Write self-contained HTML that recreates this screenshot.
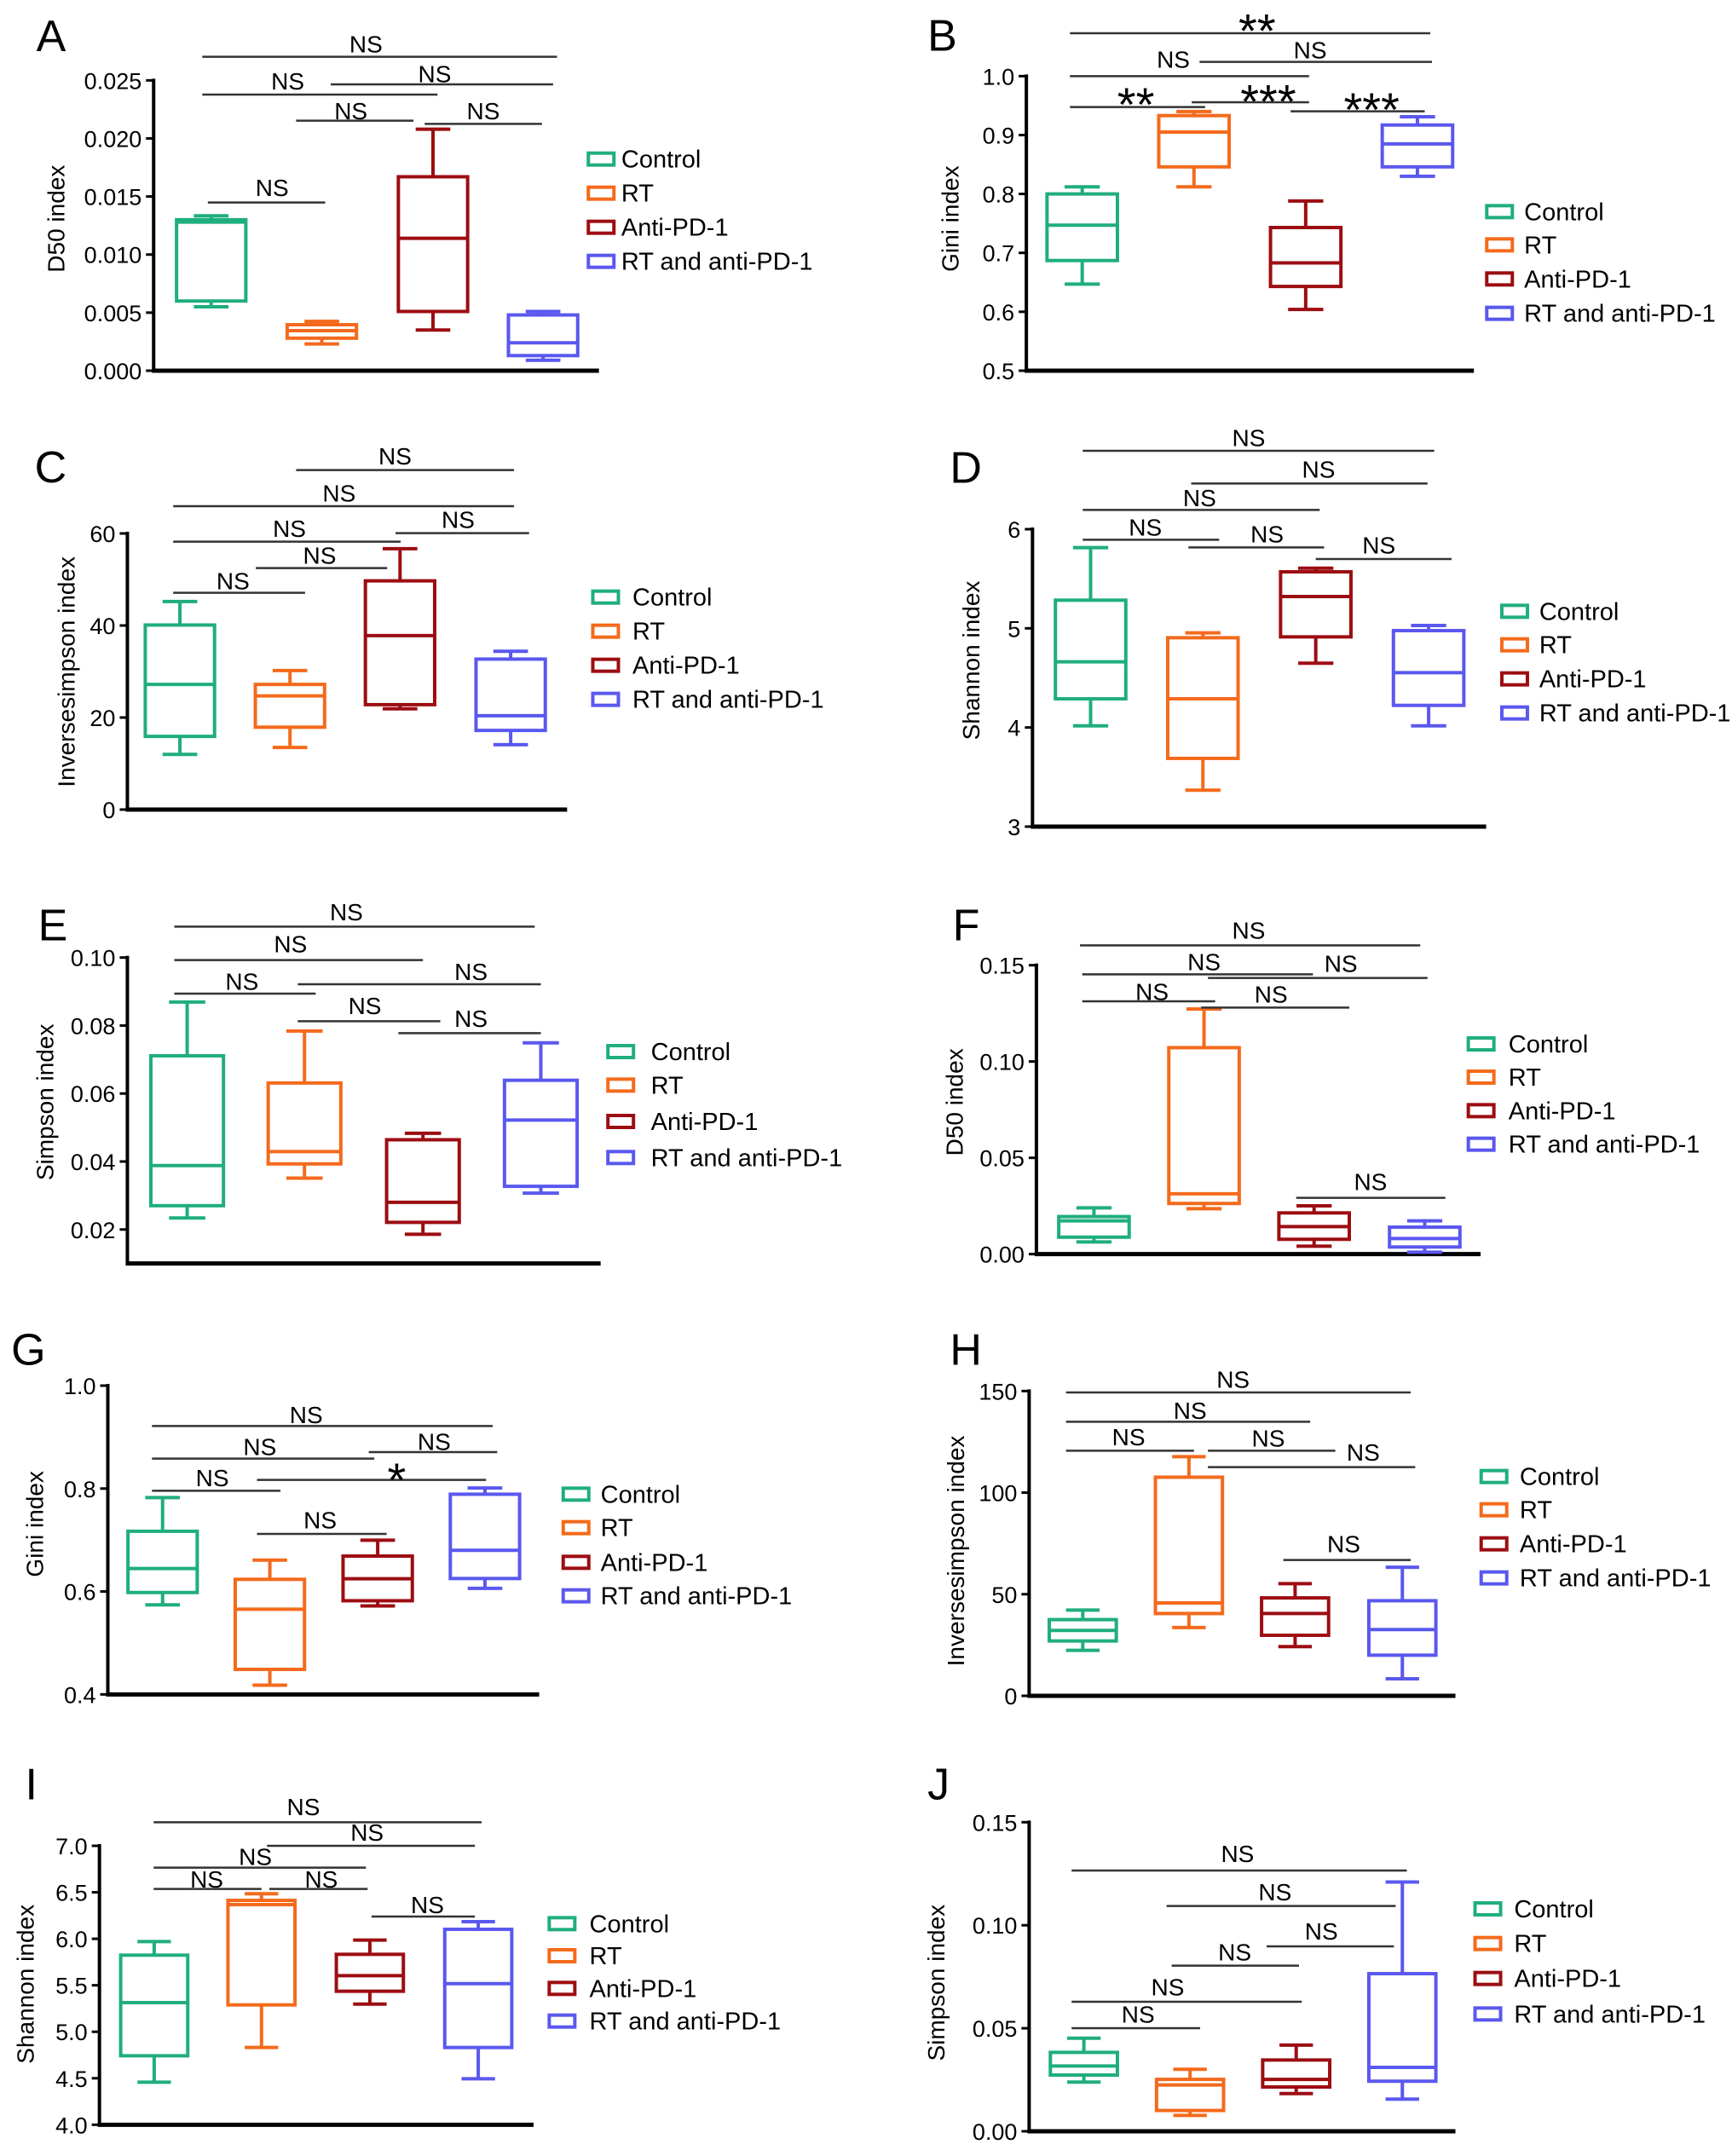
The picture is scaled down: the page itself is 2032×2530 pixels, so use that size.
<!DOCTYPE html>
<html><head><meta charset="utf-8"><style>
html,body{margin:0;padding:0;background:#fff;}
svg{display:block;font-family:"Liberation Sans",Arial,sans-serif;}
</style></head><body>
<svg id="fig" width="2032" height="2530" viewBox="0 0 2032 2530" xmlns="http://www.w3.org/2000/svg"></svg>
<script>
const groups = ["Control","RT","Anti-PD-1","RT and anti-PD-1"];
const colors = ["#1fae7c","#f46a1c","#9c0d12","#5a58ee"];
// box data per panel: [min, q1, median, q3, max] per group
const dataA = [[0.0055,0.0060,0.0128,0.0130,0.01334],[0.0023,0.0028,0.00345,0.00396,0.00425],[0.0035,0.0051,0.0114,0.0167,0.0208],[0.0009,0.0013,0.0024,0.0048,0.0051]];
const dataB = [[0.647,0.687,0.747,0.800,0.812],[0.812,0.846,0.905,0.933,0.940],[0.604,0.643,0.683,0.743,0.788],[0.830,0.846,0.885,0.917,0.931]];
const dataC = [[12.0,15.9,27.2,40.1,45.2],[13.5,17.9,24.7,27.2,30.2],[21.9,22.8,37.8,49.7,56.7],[14.1,17.2,20.4,32.7,34.4]];
const dataD = [[4.017,4.289,4.662,5.284,5.814],[3.367,3.688,4.289,4.905,4.954],[4.648,4.914,5.321,5.570,5.607],[4.017,4.223,4.553,4.977,5.029]];
const dataE = [[0.0234,0.0270,0.0388,0.0711,0.0869],[0.0351,0.0393,0.0429,0.0631,0.0784],[0.0186,0.0221,0.0280,0.0464,0.0483],[0.0307,0.0327,0.0522,0.0639,0.0749]];
const dataF = [[0.0063,0.0088,0.0173,0.0195,0.0240],[0.0236,0.0263,0.0313,0.1072,0.1273],[0.0041,0.0077,0.0143,0.0214,0.0251],[0.0010,0.0037,0.0081,0.0140,0.0173]];
const dataG = [[0.574,0.598,0.6445,0.717,0.7825],[0.418,0.4486,0.5656,0.6236,0.661],[0.572,0.582,0.6247,0.6688,0.6997],[0.606,0.6252,0.680,0.789,0.801]];
const dataH = [[22.4,27.0,32.2,37.5,42.2],[33.6,40.5,45.7,107.6,117.7],[24.2,29.8,40.5,48.2,55.2],[8.4,20.0,32.6,46.8,63.3]];
const dataI = [[4.458,4.742,5.314,5.824,5.970],[4.831,5.289,6.368,6.413,6.484],[5.298,5.436,5.604,5.833,5.986],[4.495,4.831,5.518,6.102,6.184]];
const dataJ = [[0.0239,0.0273,0.0317,0.0383,0.0452],[0.0077,0.0101,0.0225,0.0252,0.0301],[0.0183,0.0215,0.0252,0.0346,0.0418],[0.0156,0.0243,0.0310,0.0765,0.1210]];
// tick values and labels
const ticksA = [0,0.005,0.010,0.015,0.020,0.025];
const tickLabelsA = ["0.000","0.005","0.010","0.015","0.020","0.025"];
const ticksB = [0.5,0.6,0.7,0.8,0.9,1.0];
const tickLabelsB = ["0.5","0.6","0.7","0.8","0.9","1.0"];
const ticksC = [0,20,40,60];
const tickLabelsC = ["0","20","40","60"];
const ticksD = [3,4,5,6];
const tickLabelsD = ["3","4","5","6"];
const ticksE = [0.02,0.04,0.06,0.08,0.10];
const tickLabelsE = ["0.02","0.04","0.06","0.08","0.10"];
const ticksF = [0,0.05,0.10,0.15];
const tickLabelsF = ["0.00","0.05","0.10","0.15"];
const ticksG = [0.4,0.6,0.8,1.0];
const tickLabelsG = ["0.4","0.6","0.8","1.0"];
const ticksH = [0,50,100,150];
const tickLabelsH = ["0","50","100","150"];
const ticksI = [4.0,4.5,5.0,5.5,6.0,6.5,7.0];
const tickLabelsI = ["4.0","4.5","5.0","5.5","6.0","6.5","7.0"];
const ticksJ = [0,0.05,0.10,0.15];
const tickLabelsJ = ["0.00","0.05","0.10","0.15"];

// layout (zoom-space coords, x scale 1016/1550, y scale 1/3)
const panels = [
 {id:"A",ox:0,oy:0,data:dataA,ticks:ticksA,labels:tickLabelsA,dom:[0,0.025],yb:1305,yt:283,ax:275,ae:1072,cx:[378,576,775,972],hw:62,
  title:"D50 index",tx:100,ty:770,lx:65,ly:180,lgx:1050,lgt:1112,lgy:[560,680,800,920],
  br:[[362,997,200,"NS",655,185],[362,783,333,"NS",515,315],[592,990,297,"NS",778,290],[530,740,425,"NS",628,420],[760,970,436,"NS",865,420],[372,582,713,"NS",487,690]]},
 {id:"B",ox:1016,oy:0,data:dataB,ticks:ticksB,labels:tickLabelsB,dom:[0.5,1.0],yb:1305,yt:268,ax:287,ae:1088,cx:[387,587,787,987],hw:63,
  title:"Gini index",tx:150,ty:770,lx:110,ly:178,lgx:1108,lgt:1178,lgy:[745,862,982,1103],
  br:[[365,1010,117,"**",700,70],[597,1013,218,"NS",795,205],[365,793,268,"NS",550,238],[365,607,377,"**",483,330],[583,793,360,"***",720,320],[760,1000,392,"***",905,348]]},
 {id:"C",ox:0,oy:490,data:dataC,ticks:ticksC,labels:tickLabelsC,dom:[0,60],yb:1380,yt:408,ax:228,ae:1015,cx:[322,519,716,914],hw:62,
  title:"Inversesimpson index",tx:118,ty:895,lx:62,ly:228,lgx:1058,lgt:1132,lgy:[632,752,872,992],
  br:[[530,920,185,"NS",707,165],[310,920,312,"NS",607,295],[310,717,437,"NS",518,420],[708,947,407,"NS",820,388],[458,693,530,"NS",572,515],[310,546,617,"NS",417,605]]},
 {id:"D",ox:1016,oy:490,data:dataD,ticks:ticksD,labels:tickLabelsD,dom:[3,6],yb:1440,yt:393,ax:298,ae:1110,cx:[402,603,805,1007],hw:63,
  title:"Shannon index",tx:188,ty:855,lx:150,ly:230,lgx:1135,lgt:1205,lgy:[682,800,920,1040],
  br:[[388,1017,117,"NS",685,100],[582,1005,232,"NS",810,212],[388,812,325,"NS",597,312],[388,632,430,"NS",500,415],[577,820,457,"NS",718,440],[805,1048,498,"NS",918,478]]},
 {id:"E",ox:0,oy:1010,data:dataE,ticks:ticksE,labels:tickLabelsE,dom:[0.01,0.10],yb:1418,yt:341,ax:228,ae:1075,cx:[335,545,757,968],hw:65,
  title:"Simpson index",tx:80,ty:850,lx:68,ly:280,lgx:1085,lgt:1165,lgy:[672,790,918,1045],
  br:[[312,957,232,"NS",620,210],[312,757,350,"NS",520,322],[312,565,468,"NS",433,455],[533,968,435,"NS",843,420],[533,788,565,"NS",653,540],[713,968,607,"NS",843,585]]},
 {id:"F",ox:1016,oy:1010,data:dataF,ticks:ticksF,labels:tickLabelsF,dom:[0,0.15],yb:1385,yt:368,ax:305,ae:1100,cx:[408,605,802,1000],hw:63,
  title:"D50 index",tx:158,ty:850,lx:155,ly:280,lgx:1075,lgt:1150,lgy:[645,762,880,998],
  br:[[383,992,298,"NS",685,275],[387,800,400,"NS",605,385],[612,1005,413,"NS",850,392],[387,625,495,"NS",512,490],[600,865,517,"NS",725,500],[770,1037,1187,"NS",903,1160]]},
 {id:"G",ox:0,oy:1520,data:dataG,ticks:ticksG,labels:tickLabelsG,dom:[0.4,1.0],yb:1405,yt:318,ax:193,ae:965,cx:[291,483,676,868],hw:62,
  title:"Gini index",tx:62,ty:805,lx:20,ly:245,lgx:1005,lgt:1075,lgy:[700,818,940,1058],
  br:[[272,882,460,"NS",548,450],[272,670,575,"NS",465,562],[660,890,552,"NS",777,545],[460,870,650,"*",710,612],[272,502,688,"NS",380,672],[460,692,840,"NS",573,820]]},
 {id:"H",ox:1016,oy:1520,data:dataH,ticks:ticksH,labels:tickLabelsH,dom:[0,150],yb:1410,yt:337,ax:292,ae:1055,cx:[388,578,768,960],hw:60,
  title:"Inversesimpson index",tx:160,ty:900,lx:150,ly:245,lgx:1098,lgt:1170,lgy:[638,755,875,995],
  br:[[358,975,342,"NS",657,325],[358,795,445,"NS",580,435],[358,587,547,"NS",470,528],[612,840,547,"NS",720,532],[612,983,605,"NS",890,582],[747,975,932,"NS",855,905]]},
 {id:"I",ox:0,oy:2030,data:dataI,ticks:ticksI,labels:tickLabelsI,dom:[4,7],yb:1390,yt:408,ax:178,ae:955,cx:[276,468,662,856],hw:60,
  title:"Shannon index",tx:45,ty:895,lx:45,ly:245,lgx:980,lgt:1055,lgy:[682,795,910,1025],
  br:[[275,862,325,"NS",543,300],[478,850,408,"NS",657,390],[275,655,485,"NS",457,475],[275,468,560,"NS",370,555],[482,658,560,"NS",575,555],[665,850,657,"NS",765,645]]},
 {id:"J",ox:1016,oy:2030,data:dataJ,ticks:ticksJ,labels:tickLabelsJ,dom:[0,0.15],yb:1413,yt:325,ax:292,ae:1055,cx:[390,580,770,960],hw:60,
  title:"Simpson index",tx:125,ty:890,lx:110,ly:245,lgx:1087,lgt:1160,lgy:[630,752,875,1000],
  br:[[368,968,495,"NS",665,465],[538,948,620,"NS",732,600],[717,945,762,"NS",815,738],[547,775,830,"NS",660,812],[368,780,957,"NS",540,935],[368,598,1050,"NS",487,1030]]}
];

const NS = "http://www.w3.org/2000/svg";
const svg = document.getElementById("fig");
const SX = 1016/1550, SY = 1/3;
function mk(tag, attrs, parent){
  const e = document.createElementNS(NS, tag);
  for (const k in attrs) e.setAttribute(k, attrs[k]);
  parent.appendChild(e);
  return e;
}

panels.forEach(p => {
  const X = zx => p.ox + zx*SX;
  const Yz = zy => p.oy + zy*SY;
  const yScale = v => Yz(p.yb + (v - p.dom[0])/(p.dom[1]-p.dom[0])*(p.yt - p.yb));
  const g = mk("g", {}, svg);
  
  

  const letter = mk("text", {x:X(p.lx), y:Yz(p.ly), "font-size":52, fill:"#000"}, g);
  letter.textContent = p.id;
  
  

  // axes
  const axTop = yScale(p.dom[1]);
  const yAxis = mk("line", {x1:X(p.ax), x2:X(p.ax), y1:axTop-2, y2:Yz(p.yb)+2, stroke:"#000","stroke-width":4}, g);
  
  
  const xAxis = mk("line", {x1:X(p.ax)-2, x2:X(p.ae), y1:Yz(p.yb), y2:Yz(p.yb), stroke:"#000","stroke-width":5}, g);
  
  

  p.ticks.forEach((t,i) => {
    const y = yScale(t);
    const tk = mk("line", {x1:X(p.ax)-9, x2:X(p.ax), y1:y, y2:y, stroke:"#000","stroke-width":3}, g);
    
    
    const tl = mk("text", {x:X(p.ax)-14, y:y+10, "font-size":27, "text-anchor":"end", fill:"#000"}, g);
    tl.textContent = p.labels[i];
    
    
  });

  const tt = mk("text", {x:0, y:0, "font-size":28, "text-anchor":"middle", fill:"#000",
    transform:`translate(${X(p.tx)+10},${Yz(p.ty)}) rotate(-90)`}, g);
  tt.textContent = p.title;
  
  

  // boxes
  p.data.forEach((d,i) => {
    const c = X(p.cx[i]), hw = p.hw*SX, cap = hw*0.5, col = colors[i];
    const bg = mk("g", {stroke:col, "stroke-width":4, fill:"none"}, g);
    
    
    const [mn,q1,md,q3,mx] = d.map(yScale);
    mk("rect", {x:c-hw, y:q3, width:2*hw, height:q1-q3}, bg);
    mk("line", {x1:c-hw, x2:c+hw, y1:md, y2:md}, bg);
    mk("line", {x1:c, x2:c, y1:mx, y2:q3}, bg);
    mk("line", {x1:c, x2:c, y1:q1, y2:mn}, bg);
    mk("line", {x1:c-cap, x2:c+cap, y1:mx, y2:mx}, bg);
    mk("line", {x1:c-cap, x2:c+cap, y1:mn, y2:mn}, bg);
  });

  // significance brackets
  p.br.forEach(b => {
    const ln = mk("line", {x1:X(b[0]), x2:X(b[1]), y1:Yz(b[2]), y2:Yz(b[2]), stroke:"#333","stroke-width":2.5}, g);
    
    
    let t;
    if (b[3] === "NS") {
      t = mk("text", {x:X(b[4]), y:Yz(b[5]), "font-size":28, "text-anchor":"middle", fill:"#000"}, g);
    } else {
      t = mk("text", {x:X(b[4]), y:Yz(b[5])+32, "font-size":56, "text-anchor":"middle", fill:"#000"}, g);
    }
    t.textContent = b[3];
    
    
  });

  // legend
  groups.forEach((gn,i) => {
    const y = Yz(p.lgy[i]);
    const lg = mk("g", {}, g);
    
    
    mk("rect", {x:X(p.lgx)+2, y:y-7, width:30, height:14, fill:"none", stroke:colors[i], "stroke-width":4}, lg);
    const lt = mk("text", {x:X(p.lgt), y:y+10, "font-size":29, fill:"#000"}, lg);
    lt.textContent = gn;
  });
});
</script>
</body></html>
